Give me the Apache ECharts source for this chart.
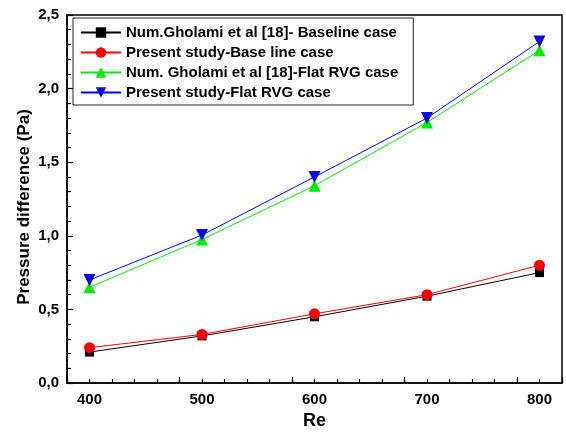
<!DOCTYPE html>
<html><head><meta charset="utf-8">
<script src="https://cdn.jsdelivr.net/npm/echarts@6/dist/echarts.min.js"></script>
<style>html,body{margin:0;padding:0;background:#fff}#c{width:566px;height:432px}</style>
</head><body><div id="c"></div>
<script>
const re = [400, 500, 600, 700, 800];
const gholamiBase = [0.21, 0.32, 0.45, 0.59, 0.75];
const presentBase = [0.24, 0.33, 0.47, 0.60, 0.80];
const gholamiFlat = [0.65, 0.975, 1.34, 1.77, 2.26];
const presentFlat = [0.70, 1.005, 1.40, 1.80, 2.32];
const names = ['Num.Gholami et al [18]- Baseline case','Present study-Base line case','Num. Gholami et al [18]-Flat RVG case','Present study-Flat RVG case'];

const font = 'Liberation Sans, Arial, sans-serif';
const pairs = arr => re.map((x, i) => [x, arr[i]]);
function ser(name, arr, color, symbol, size, rot) {
  return { name, type: 'line', data: pairs(arr), xAxisIndex: 0, symbol, symbolSize: size, symbolRotate: rot || 0,
    lineStyle: { color, width: 1 }, itemStyle: { color }, z: 3 };
}
const chart = echarts.init(document.getElementById('c'), null, { renderer: 'canvas' });
chart.setOption({
  animation: false,
  grid: { left: 67, top: 15, right: 4, bottom: 49, show: true, borderColor: '#000', borderWidth: 1.5,
    outerBoundsMode: 'none', containLabel: false },
  legend: {
    orient: 'vertical', left: 73, top: 18, data: names,
    itemWidth: 40, itemHeight: 13, itemGap: 5, padding: [7, 15, 5, 7],
    borderColor: '#222', borderWidth: 1, selectedMode: false,
    textStyle: { fontFamily: font, fontWeight: 'bold', fontSize: 15, color: '#000' }
  },
  xAxis: [{
    type: 'value', min: 380, max: 820, interval: 20,
    name: 'Re', nameLocation: 'middle', nameGap: 29, nameMoveOverlap: false,
    nameTextStyle: { fontFamily: font, fontWeight: 'bold', fontSize: 18, color: '#000' },
    axisLine: { lineStyle: { color: '#000', width: 1.5 } },
    axisTick: { inside: true, length: 4, lineStyle: { color: '#000', width: 1.2 } },
    axisLabel: { fontFamily: font, fontWeight: 'bold', fontSize: 15, color: '#000', margin: 9,
      formatter: v => (v % 100 === 0 ? String(v) : '') },
    splitLine: { show: false }
  }, {
    type: 'value', min: 380, max: 820, interval: 100, position: 'bottom',
    axisLine: { show: false },
    axisTick: { inside: true, length: 6, lineStyle: { color: '#000', width: 1.2 } },
    axisLabel: { show: false }, splitLine: { show: false }
  }],
  yAxis: {
    type: 'value', min: 0, max: 2.5, interval: 0.5,
    name: 'Pressure difference (Pa)', nameLocation: 'middle', nameGap: 34, nameRotate: 90, nameMoveOverlap: false,
    nameTextStyle: { fontFamily: font, fontWeight: 'bold', fontSize: 17, color: '#000', padding: [0, 16, 0, 0] },
    axisLine: { show: true, lineStyle: { color: '#000', width: 1.5 } },
    axisTick: { show: true, inside: true, length: 6, lineStyle: { color: '#000', width: 1.2 } },
    minorTick: { show: true, splitNumber: 5, length: 4, lineStyle: { color: '#000', width: 1.2 } },
    axisLabel: { fontFamily: font, fontWeight: 'bold', fontSize: 15, color: '#000', margin: 8,
      formatter: v => v.toFixed(1).replace('.', ',') },
    splitLine: { show: false }
  },
  series: [
    ser(names[0], gholamiBase, '#000000', 'rect', 9),
    ser(names[1], presentBase, '#ff0000', 'circle', 11),
    ser(names[2], gholamiFlat, '#00ee00', 'triangle', 12),
    ser(names[3], presentFlat, '#0000ff', 'triangle', 12, 180)
  ]
});
</script></body></html>
